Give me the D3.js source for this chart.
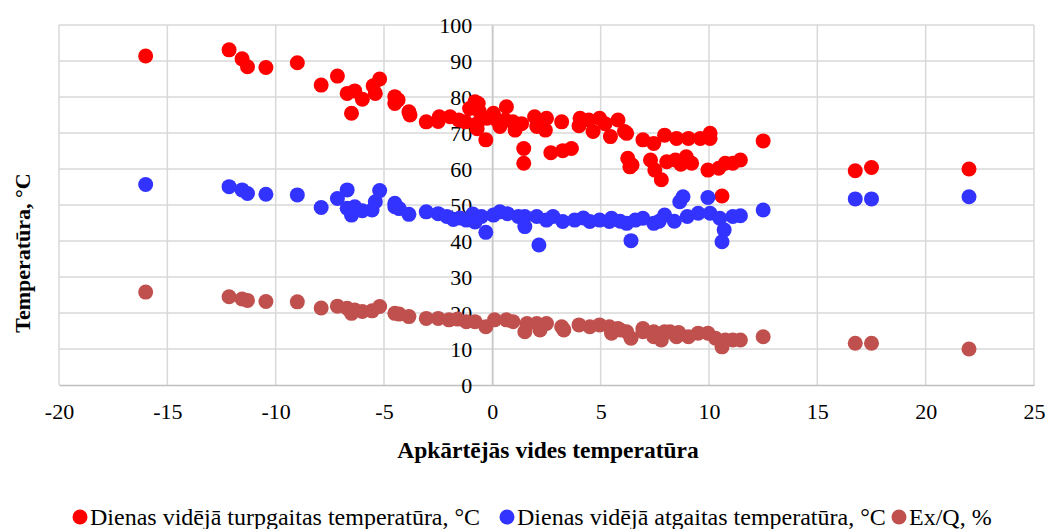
<!DOCTYPE html>
<html>
<head>
<meta charset="utf-8">
<script src="https://cdn.jsdelivr.net/npm/d3@7"></script>
<style>
  html, body { margin: 0; padding: 0; background: #fff; }
  svg { display: block; font-family: "Liberation Serif", "Times New Roman", serif; }
</style>
</head>
<body>
<svg id="chart" width="1048" height="529"></svg>
<script>
// Daily mean supply temperature, °C, vs. outdoor temperature
const supplyX = [-16.0,-12.15,-11.55,-11.3,-10.45,-9.0,-7.9,-7.15,-6.7,-6.35,-6.5,-6.0,-5.5,-5.2,-5.4,-4.5,-4.35,-4.5,-3.85,-3.8,
  -3.05,-2.45,-2.5,-1.95,-1.55,-1.25,-1.05,-0.8,-0.65,-0.6,-0.7,-0.7,-0.3,-0.25,0.05,0.2,0.35,0.65,0.6,0.95,
  1.05,1.35,1.45,1.45,1.95,2.05,2.5,2.45,2.7,3.2,3.25,3.65,4.05,4.0,4.45,4.65,4.95,5.2,5.45,5.8,
  6.1,6.2,6.25,6.35,6.45,6.95,7.45,7.3,7.5,7.8,7.95,8.05,8.45,8.5,8.95,9.05,9.2,8.7,9.6,9.95,
  10.05,10.05,10.45,10.6,10.75,11.1,11.45,12.5,16.75,17.5,22.0];
const supplyTemp = [91.4,93.1,90.6,88.4,88.2,89.5,83.3,85.8,81.0,81.7,75.5,79.4,83.1,85.0,81.0,80.1,79.2,78.2,75.9,75.0,
  73.1,74.5,73.2,74.5,73.6,73.1,76.8,78.7,78.2,76.0,72.6,71.2,68.1,74.1,75.5,73.6,71.8,77.3,73.6,73.1,
  70.8,72.6,65.7,61.6,74.5,71.8,74.1,70.8,64.5,73.1,65.1,65.7,74.1,72.0,73.6,70.4,74.1,72.6,69.0,73.6,
  70.4,69.9,63.0,60.6,61.1,68.1,67.1,62.5,59.7,57.0,69.4,62.0,62.5,68.5,63.4,68.5,61.6,61.3,68.5,59.7,
  69.9,68.5,60.2,52.5,61.6,61.6,62.5,67.8,59.5,60.4,60.0];

// Daily mean return temperature, °C
const returnX = [-16.0,-12.15,-11.55,-11.3,-10.45,-9.0,-7.9,-7.15,-6.7,-6.7,-6.5,-6.35,-6.0,-5.55,-5.4,-5.2,-4.5,-4.5,-4.3,-3.85,
  -3.05,-2.5,-2.1,-1.8,-1.5,-1.2,-0.9,-0.8,-0.5,-0.3,0.05,0.35,0.7,1.2,1.5,1.5,2.05,2.15,2.5,2.8,
  3.25,3.8,4.2,4.5,4.95,5.4,5.5,5.9,6.2,6.4,6.6,6.95,7.45,7.7,7.95,8.4,8.65,8.8,9.0,9.5,
  9.95,10.05,10.5,10.7,10.6,11.1,11.45,12.5,16.75,17.5,22.0];
const returnTemp = [55.7,55.1,54.2,53.2,53.0,52.8,49.3,51.8,54.2,49.1,47.2,49.5,48.4,48.6,50.9,54.0,50.5,49.5,49.0,47.4,
  48.1,47.6,46.8,46.0,46.4,45.8,47.5,45.3,46.8,42.4,47.2,48.1,47.6,46.8,44.0,46.8,46.8,38.9,45.8,46.8,
  45.4,45.8,46.4,45.4,45.8,45.4,46.3,45.5,44.9,40.1,45.8,46.3,44.9,45.5,47.2,45.5,50.9,52.3,46.8,47.7,
  52.1,47.7,46.3,43.1,39.8,46.8,47.0,48.6,51.7,51.7,52.3];

// Exergy to heat ratio Ex/Q, %
const exqX = [-16.0,-12.15,-11.55,-11.3,-10.45,-9.0,-7.9,-7.15,-6.7,-6.5,-6.35,-6.0,-5.55,-5.2,-4.5,-4.3,-3.85,-3.05,-2.5,-2.0,
  -1.6,-1.2,-0.8,-0.3,0.1,0.65,0.95,1.5,1.6,2.05,2.2,2.5,3.2,3.3,4.0,4.5,4.95,5.4,5.5,5.8,
  5.9,6.2,6.4,6.95,6.95,7.45,7.45,7.8,7.95,8.2,8.5,8.6,9.05,9.5,9.95,10.3,10.6,10.75,11.1,11.45,
  12.5,16.75,17.5,22.0];
const exq = [25.8,24.5,23.9,23.5,23.2,23.1,21.4,21.9,21.3,19.9,20.8,20.4,20.6,21.8,19.9,19.7,19.0,18.5,18.5,18.1,
  18.3,17.6,17.6,16.2,18.1,18.1,17.6,14.8,17.1,17.1,15.3,17.1,16.2,15.3,16.7,16.2,16.7,16.2,14.4,15.7,
  15.3,14.8,13.0,15.7,14.8,14.8,13.4,12.5,14.8,14.8,13.4,14.6,13.4,14.4,14.4,13.0,10.6,12.5,12.5,12.5,
  13.4,11.6,11.6,10.0];

const xTicks = [-20,-15,-10,-5,0,5,10,15,20,25];
const yTicks = [0,10,20,30,40,50,60,70,80,90,100];

const seriesNames = ["Dienas vidējā turpgaitas temperatūra, °C", "Dienas vidējā atgaitas temperatūra, °C", "Ex/Q, %"];
const seriesColors = ["#ff0000", "#3333ff", "#c0504d"];
const xTitle = "Apkārtējās vides temperatūra";
const yTitle = "Temperatūra, °C";

const series = [
  { xs: supplyX, ys: supplyTemp },
  { xs: returnX, ys: returnTemp },
  { xs: exqX, ys: exq }
];

const svg = d3.select("#chart");
const plot = { left: 59, right: 1034, top: 25, bottom: 385 };
const serif = "Liberation Serif, Times New Roman, serif";

const x = d3.scaleLinear().domain([-20, 25]).range([plot.left, plot.right]);
const y = d3.scaleLinear().domain([0, 100]).range([plot.bottom, plot.top]);

// Gridlines
const grid = svg.append("g");
grid.selectAll("line.v").data(xTicks).join("line")
  .attr("x1", d => x(d)).attr("x2", d => x(d))
  .attr("y1", plot.top).attr("y2", plot.bottom)
  .attr("stroke", "#d9d9d9").attr("stroke-width", 1.5);
grid.selectAll("line.h").data(yTicks.filter(d => d > 0)).join("line")
  .attr("x1", plot.left).attr("x2", plot.right)
  .attr("y1", d => y(d)).attr("y2", d => y(d))
  .attr("stroke", "#d9d9d9").attr("stroke-width", 1.5);

// Plain hyphen for negatives
const fmt = d => String(d);

// X axis at the bottom
const xAxis = svg.append("g")
  .attr("transform", `translate(0,${plot.bottom})`)
  .call(d3.axisBottom(x).tickValues(xTicks).tickSize(0).tickPadding(18).tickFormat(fmt));
xAxis.attr("font-family", serif);
xAxis.select(".domain").attr("stroke", "#bfbfbf").attr("stroke-width", 1.5);
xAxis.selectAll("text").attr("font-size", 22).attr("fill", "#000");

// Y axis crossing at x = 0
const yAxis = svg.append("g")
  .attr("transform", `translate(${x(0)},0)`)
  .call(d3.axisLeft(y).tickValues(yTicks).tickSize(0).tickPadding(20).tickFormat(fmt));
yAxis.attr("font-family", serif);
yAxis.select(".domain").attr("stroke", "#c8c8c8").attr("stroke-width", 1.5);
yAxis.selectAll("text").attr("font-size", 22).attr("fill", "#000");

// Series markers
series.forEach((s, i) => {
  svg.append("g").selectAll("circle")
    .data(s.xs.map((v, k) => [v, s.ys[k]]))
    .join("circle")
    .attr("cx", d => x(d[0]))
    .attr("cy", d => y(d[1]))
    .attr("r", 7.5)
    .attr("fill", seriesColors[i]);
});

// Axis titles
svg.append("text")
  .attr("x", 548).attr("y", 458)
  .attr("text-anchor", "middle")
  .attr("font-size", 23.5).attr("font-weight", "bold")
  .text(xTitle);

svg.append("text")
  .attr("transform", "translate(30,253) rotate(-90)")
  .attr("text-anchor", "middle")
  .attr("font-size", 22).attr("font-weight", "bold")
  .text(yTitle);

// Legend
const legendX = [80, 507, 899];
const legend = svg.append("g");
seriesNames.forEach((name, i) => {
  legend.append("circle")
    .attr("cx", legendX[i]).attr("cy", 517).attr("r", 7.5)
    .attr("fill", seriesColors[i]);
  legend.append("text")
    .attr("x", legendX[i] + 10).attr("y", 525)
    .attr("font-size", 24)
    .text(name);
});
</script>
</body>
</html>
